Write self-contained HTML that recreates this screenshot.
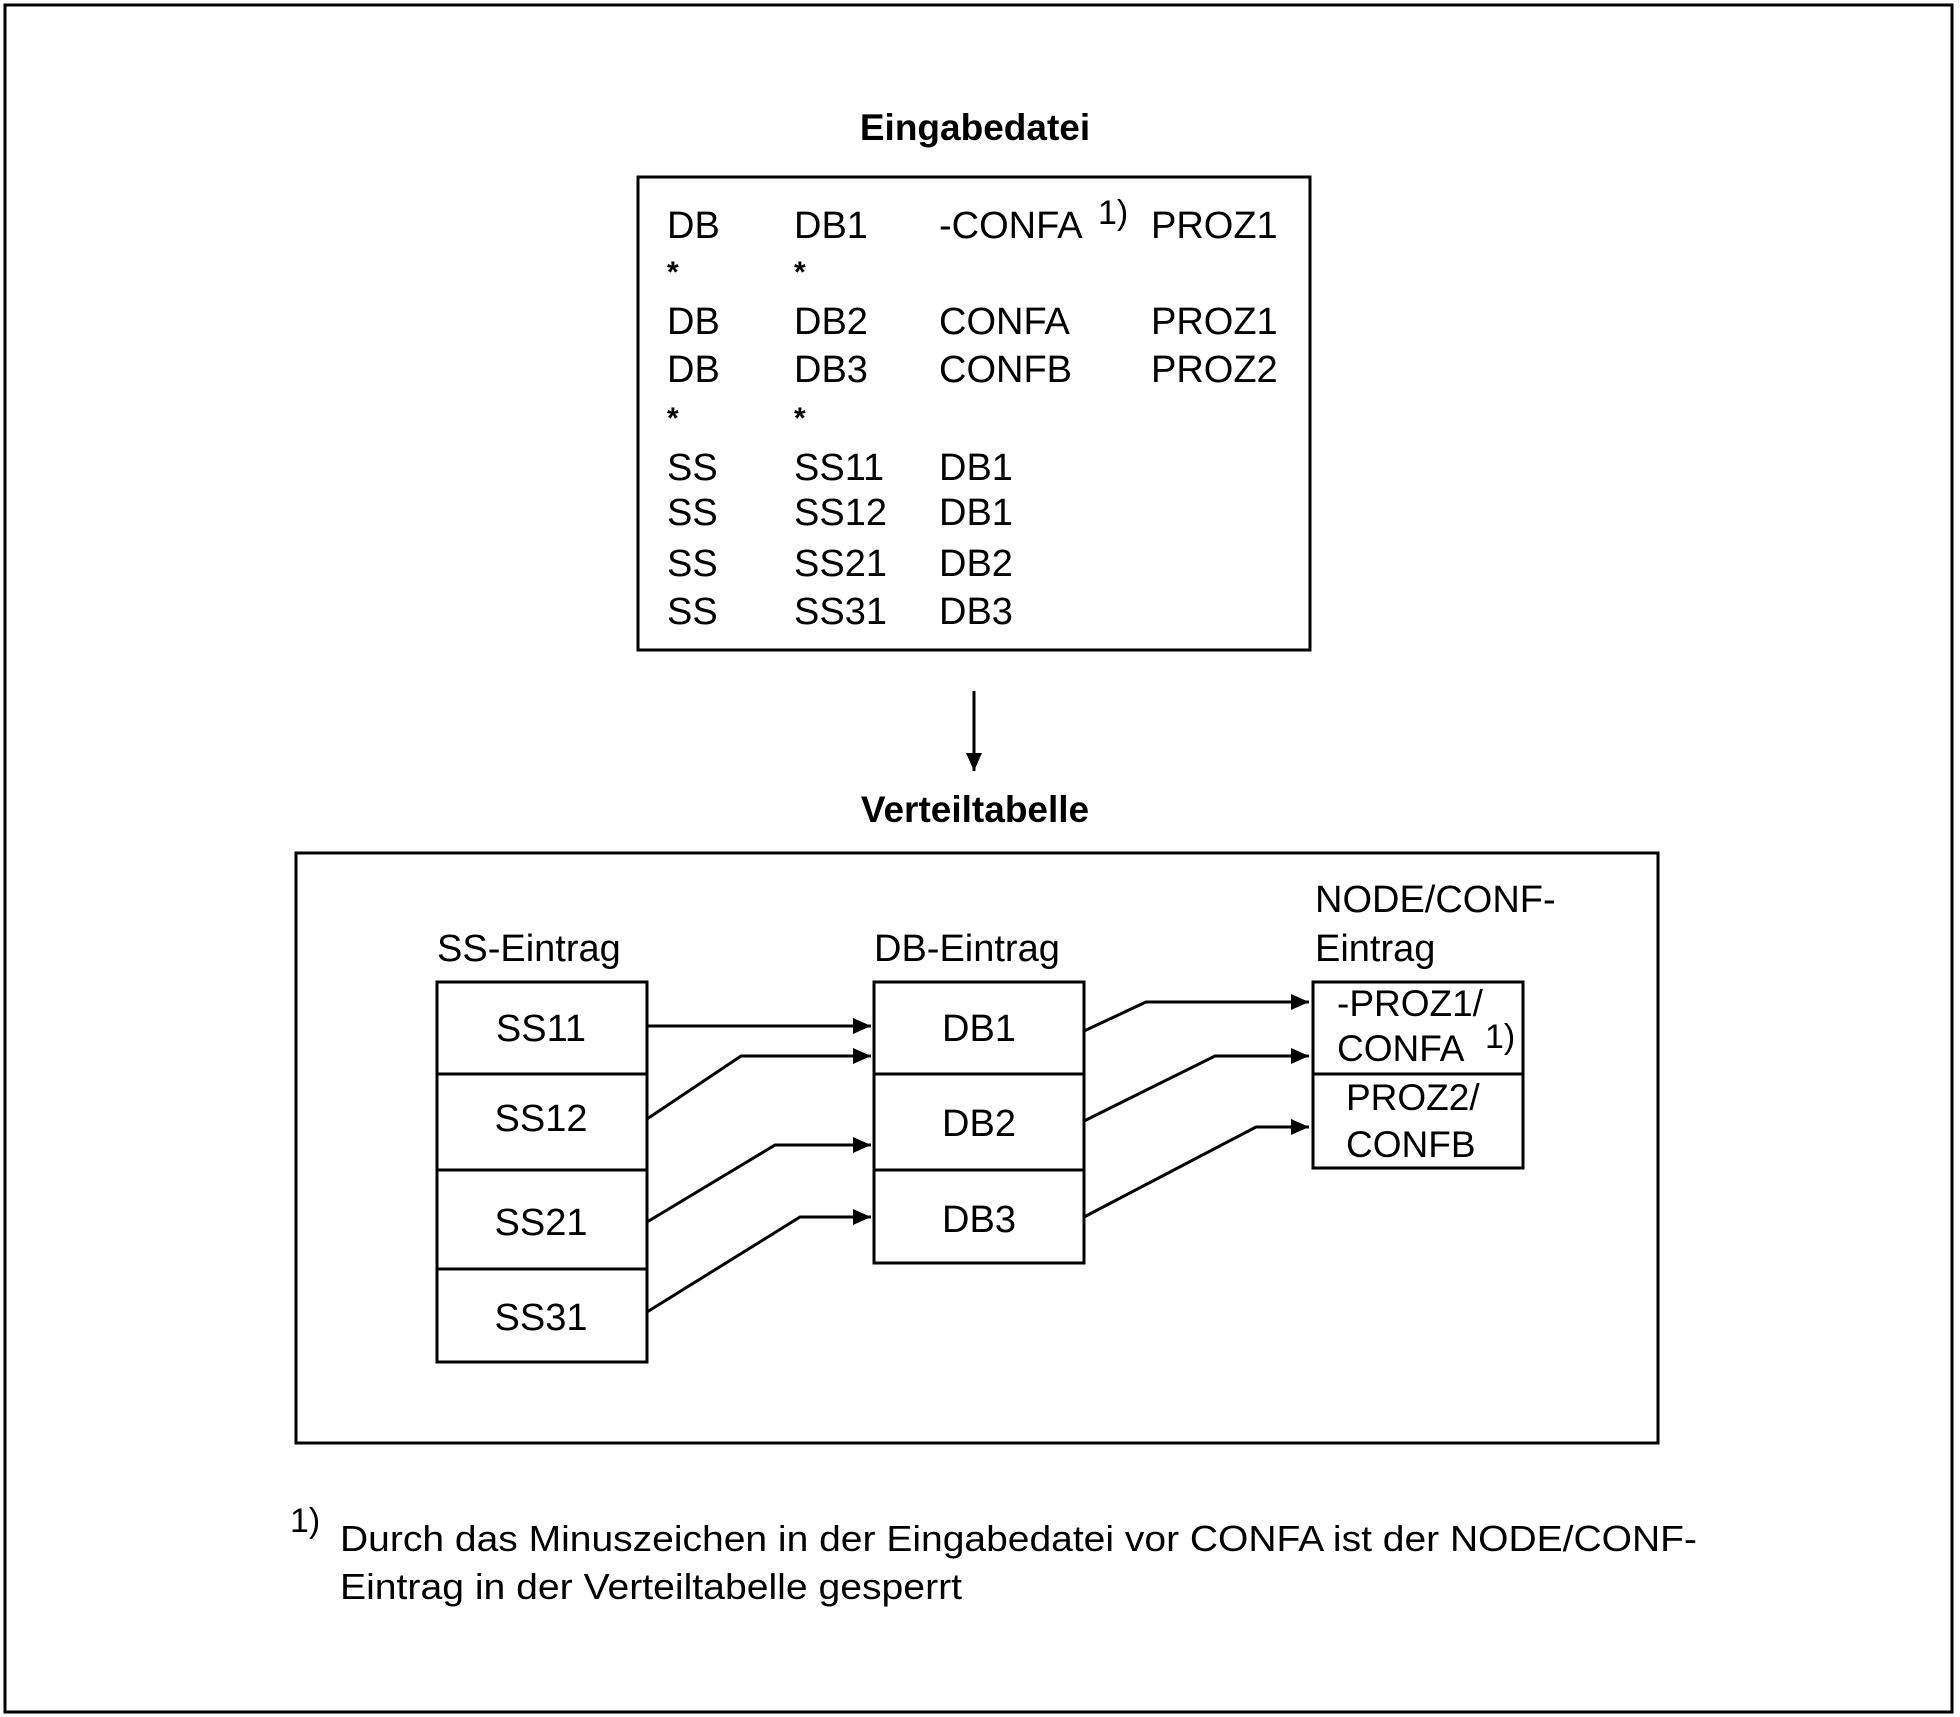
<!DOCTYPE html>
<html><head><meta charset="utf-8"><style>
html,body{margin:0;padding:0;background:#fff}
svg{display:block}
text{font-family:"Liberation Sans",sans-serif;fill:#000}
</style></head><body>
<svg width="1960" height="1717" viewBox="0 0 1960 1717" xmlns="http://www.w3.org/2000/svg">
<defs>
<marker id="b" markerWidth="20" markerHeight="20" refX="18" refY="10" orient="auto" markerUnits="userSpaceOnUse"><path d="M0,2 L18,10 L0,18 z" fill="#000"/></marker></defs>
<rect x="5" y="5" width="1947" height="1707" fill="none" stroke="#000" stroke-width="3"/>
<text x="975" y="140" font-size="37" font-weight="bold" text-anchor="middle">Eingabedatei</text>
<rect x="638" y="177" width="672" height="473" fill="none" stroke="#000" stroke-width="3"/>
<g font-size="38">
<text x="667" y="238">DB</text><text x="794" y="238">DB1</text><text x="939" y="238">-CONFA</text><text x="1098" y="224" font-size="34">1)</text><text x="1151" y="238">PROZ1</text>
<text x="667" y="282" font-size="30" font-weight="bold">*</text><text x="794" y="282" font-size="30" font-weight="bold">*</text>
<text x="667" y="334">DB</text><text x="794" y="334">DB2</text><text x="939" y="334">CONFA</text><text x="1151" y="334">PROZ1</text>
<text x="667" y="382">DB</text><text x="794" y="382">DB3</text><text x="939" y="382">CONFB</text><text x="1151" y="382">PROZ2</text>
<text x="667" y="428" font-size="30" font-weight="bold">*</text><text x="794" y="428" font-size="30" font-weight="bold">*</text>
<text x="667" y="480">SS</text><text x="794" y="480">SS11</text><text x="939" y="480">DB1</text>
<text x="667" y="525">SS</text><text x="794" y="525">SS12</text><text x="939" y="525">DB1</text>
<text x="667" y="576">SS</text><text x="794" y="576">SS21</text><text x="939" y="576">DB2</text>
<text x="667" y="624">SS</text><text x="794" y="624">SS31</text><text x="939" y="624">DB3</text>
</g>
<line x1="974" y1="691" x2="974" y2="771" stroke="#000" stroke-width="3" marker-end="url(#b)"/>
<text x="975" y="822" font-size="37" font-weight="bold" text-anchor="middle">Verteiltabelle</text>
<rect x="296" y="853" width="1362" height="590" fill="none" stroke="#000" stroke-width="3"/>
<g font-size="38">
<text x="437" y="961">SS-Eintrag</text>
<text x="874" y="961">DB-Eintrag</text>
<text x="1315" y="912">NODE/CONF-</text>
<text x="1315" y="961">Eintrag</text>
</g>
<g fill="none" stroke="#000" stroke-width="3">
<rect x="437" y="982" width="210" height="380"/>
<line x1="437" y1="1074" x2="647" y2="1074"/><line x1="437" y1="1170" x2="647" y2="1170"/><line x1="437" y1="1269" x2="647" y2="1269"/>
<rect x="874" y="982" width="210" height="281"/>
<line x1="874" y1="1074" x2="1084" y2="1074"/><line x1="874" y1="1170" x2="1084" y2="1170"/>
<rect x="1313" y="982" width="210" height="186"/>
<line x1="1313" y1="1074" x2="1523" y2="1074"/>
<polyline points="647,1026 871,1026" marker-end="url(#b)"/>
<polyline points="647,1119 741,1056 871,1056" marker-end="url(#b)"/>
<polyline points="647,1222 775,1145 871,1145" marker-end="url(#b)"/>
<polyline points="647,1312 800,1217 871,1217" marker-end="url(#b)"/>
<polyline points="1084,1031 1146,1002 1309,1002" marker-end="url(#b)"/>
<polyline points="1084,1121 1215,1056 1309,1056" marker-end="url(#b)"/>
<polyline points="1084,1217 1256,1127 1309,1127" marker-end="url(#b)"/>
</g>
<g font-size="38" text-anchor="middle">
<text x="541" y="1041">SS11</text><text x="541" y="1131">SS12</text><text x="541" y="1235">SS21</text><text x="541" y="1330">SS31</text>
<text x="979" y="1041">DB1</text><text x="979" y="1136">DB2</text><text x="979" y="1232">DB3</text>
</g>
<g font-size="37">
<text x="1337" y="1016">-PROZ1/</text><text x="1337" y="1061">CONFA</text><text x="1485" y="1048" font-size="34">1)</text>
<text x="1346" y="1110">PROZ2/</text><text x="1346" y="1157">CONFB</text>
</g>
<text x="290" y="1532" font-size="34">1)</text>
<text x="340" y="1551" font-size="36" textLength="1357" lengthAdjust="spacingAndGlyphs">Durch das Minuszeichen in der Eingabedatei vor CONFA ist der NODE/CONF-</text>
<text x="340" y="1599" font-size="36" textLength="622" lengthAdjust="spacingAndGlyphs">Eintrag in der Verteiltabelle gesperrt</text>
</svg>
</body></html>
